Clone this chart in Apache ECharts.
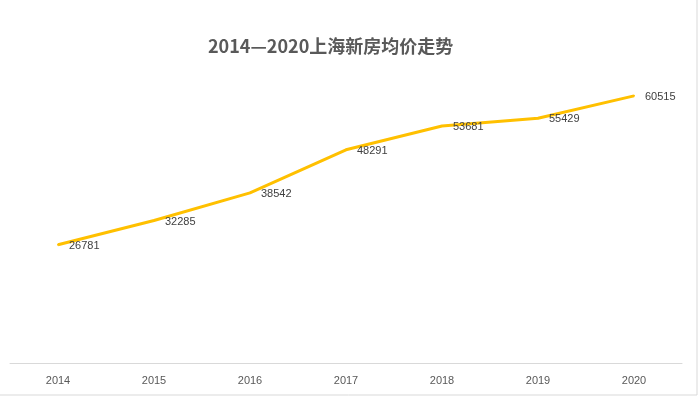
<!DOCTYPE html>
<html>
<head>
<meta charset="UTF-8">
<title>2014—2020上海新房均价走势</title>
<script type="text/javascript" src="https://cdn.jsdelivr.net/npm/echarts@6/dist/echarts.min.js"></script>
<style type="text/css">
html, body { margin: 0; padding: 0; background: #fff; }
#main { width: 700px; height: 397px; }
</style>
</head>
<body>
<div id="main"></div>
<script>
// 年份与均价
var years = ['2014', '2015', '2016', '2017', '2018', '2019', '2020'];
var prices = [26781, 32285, 38542, 48291, 53681, 55429, 60515];
var titleText = '2014—2020上海新房均价走势';

var chart = echarts.init(document.getElementById('main'));

var option = {
    backgroundColor: '#ffffff',
    animation: false,
    title: {
        text: titleText,
        left: 203,
        top: 32,
        textStyle: {
            fontFamily: 'Noto Sans CJK SC',
            fontSize: 18,
            fontWeight: 'bold',
            color: '#595959'
        }
    },
    grid: {
        left: 10,
        right: 18,
        top: 54,
        bottom: 34
    },
    xAxis: {
        type: 'category',
        data: years,
        boundaryGap: true,
        axisLine: { lineStyle: { color: '#d9d9d9', width: 1 } },
        axisTick: { show: false },
        axisLabel: {
            color: '#595959',
            fontSize: 11,
            fontFamily: 'Liberation Sans',
            margin: 12
        }
    },
    yAxis: {
        type: 'value',
        min: 0,
        max: 70000,
        show: false,
        splitLine: { show: false }
    },
    series: [{
        name: '均价',
        type: 'line',
        data: prices,
        symbol: 'circle',
        symbolSize: 2,
        showSymbol: true,
        lineStyle: { color: '#FFC000', width: 3 },
        itemStyle: { color: '#FFC000' },
        label: {
            show: true,
            position: 'right',
            distance: 10,
            offset: [0, 1],
            color: '#404040',
            fontSize: 11,
            fontFamily: 'Liberation Sans'
        }
    }],
    graphic: [
        { type: 'line', shape: { x1: 697, y1: 0, x2: 697, y2: 395 }, style: { stroke: '#d9d9d9', lineWidth: 1 } },
        { type: 'line', shape: { x1: 0, y1: 395, x2: 697, y2: 395 }, style: { stroke: '#d9d9d9', lineWidth: 1 } }
    ]
};

chart.setOption(option);
</script>
</body>
</html>
